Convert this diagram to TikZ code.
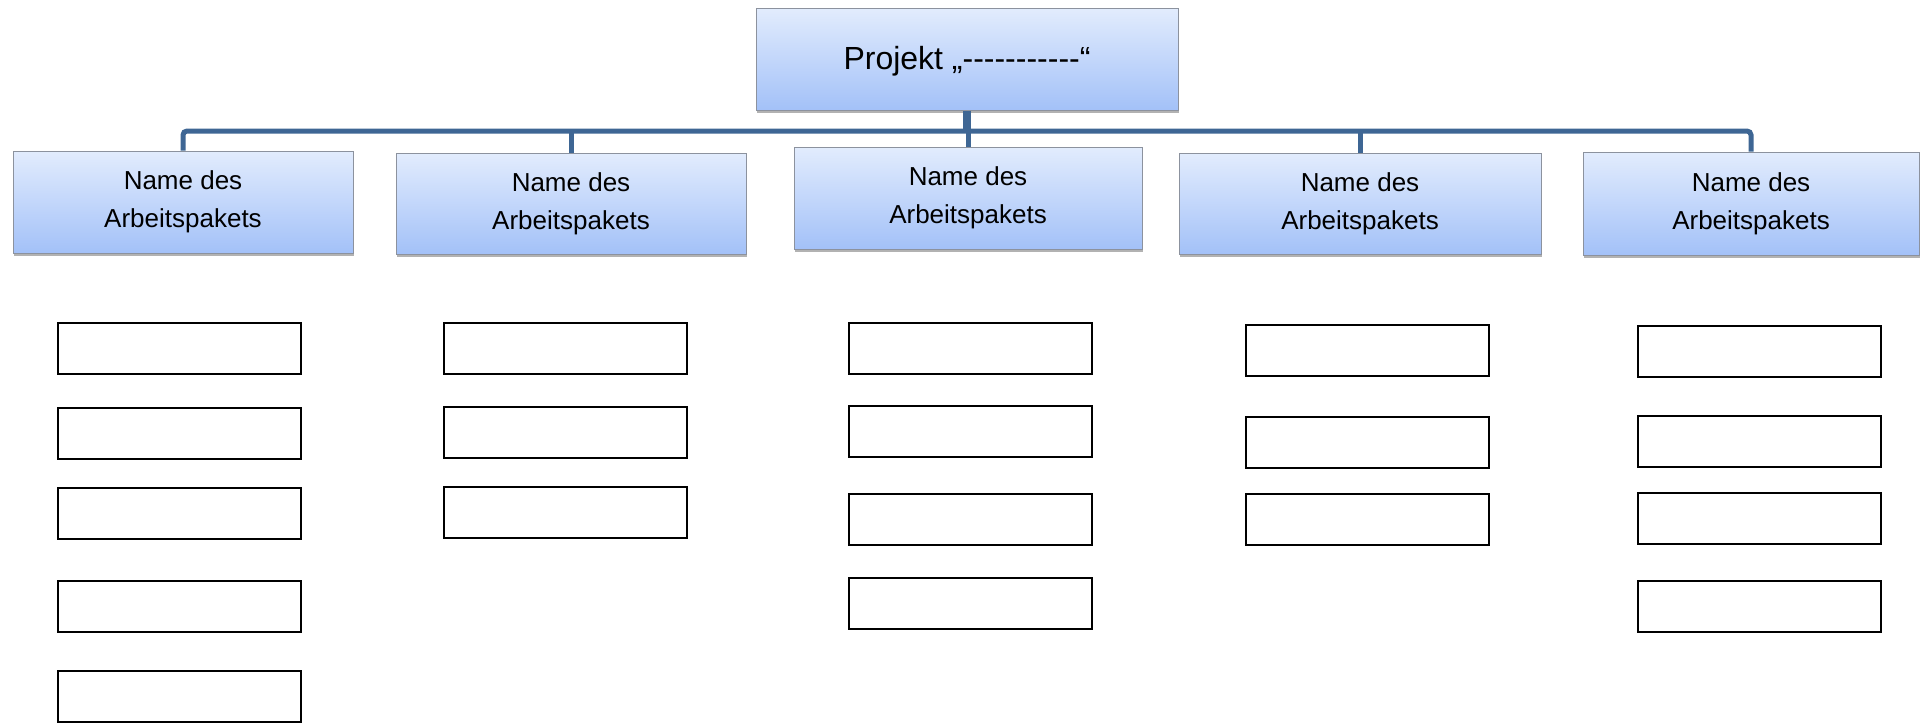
\documentclass[tikz,border=0pt]{standalone}
\usepackage{fontspec}
\newfontfamily\arial{Liberation Sans}
\usetikzlibrary{shadows}
\definecolor{busblue}{RGB}{62,102,148}
\definecolor{boxtop}{RGB}{226,236,253}
\definecolor{boxbot}{RGB}{163,193,248}
\definecolor{boxedge}{RGB}{140,146,158}
\tikzset{
  wbs/.style={draw=boxedge, line width=1pt, top color=boxtop, bottom color=boxbot,
    inner sep=0pt, align=center, font=\arial\fontsize{26}{38}\selectfont,
    drop shadow={shadow xshift=1pt, shadow yshift=-3pt, opacity=0.3, fill=black}},
  topbox/.style={wbs, font=\arial\fontsize{32}{38}\selectfont},
  leaf/.style={draw=black, line width=2pt, fill=white, inner sep=0pt,
    minimum width=243pt, minimum height=51pt},
  bus/.style={draw=busblue, line width=5pt},
}
\begin{document}
\begin{tikzpicture}[x=1pt, y=-1pt]
\useasboundingbox (0,0) rectangle (1926,723);
% top
\node[topbox, minimum width=422pt, minimum height=102pt, text depth=2pt] (top) at (967,59) {Projekt „-----------“};
% level 2
\node[wbs, minimum width=340pt, minimum height=102pt] (b1) at (183,202) {Name des\\Arbeitspakets};
\node[wbs, minimum width=350pt, minimum height=101pt] (b2) at (571,203.5) {Name des\\Arbeitspakets};
\node[wbs, minimum width=348pt, minimum height=102pt] (b3) at (968,198) {Name des\\Arbeitspakets};
\node[wbs, minimum width=362pt, minimum height=101pt] (b4) at (1360,203.5) {Name des\\Arbeitspakets};
\node[wbs, minimum width=336pt, minimum height=103pt] (b5) at (1751,203.5) {Name des\\Arbeitspakets};
% connectors
\coordinate (bus) at (0,131);
\draw[bus, rounded corners=4pt] (b1.north) -- (b1.north |- bus) -- (b5.north |- bus) -- (b5.north);
\draw[bus] (b2.north |- bus) -- (b2.north);
\draw[bus] (b4.north |- bus) -- (b4.north);
\draw[bus, line width=8pt] (top.south) -- (top.south |- bus);
\draw[bus] (b3.north |- bus) -- (b3.north);
% column 1
\node[leaf] (c1a) at (179.5,348) {};
\node[leaf] (c1b) at (179.5,433.5) {};
\node[leaf] (c1c) at (179.5,513.5) {};
\node[leaf] (c1d) at (179.5,606.5) {};
\node[leaf] (c1e) at (179.5,696) {};
% column 2
\node[leaf] (c2a) at (565,348.5) {};
\node[leaf] (c2b) at (565,432.5) {};
\node[leaf] (c2c) at (565,512) {};
% column 3
\node[leaf] (c3a) at (970.5,348) {};
\node[leaf] (c3b) at (970.5,431) {};
\node[leaf] (c3c) at (970.5,519.5) {};
\node[leaf] (c3d) at (970.5,603.5) {};
% column 4
\node[leaf] (c4a) at (1367.5,350.5) {};
\node[leaf] (c4b) at (1367.5,442) {};
\node[leaf] (c4c) at (1367.5,519.5) {};
% column 5
\node[leaf] (c5a) at (1759.5,351) {};
\node[leaf] (c5b) at (1759.5,441) {};
\node[leaf] (c5c) at (1759.5,518) {};
\node[leaf] (c5d) at (1759.5,606.5) {};
\end{tikzpicture}
\end{document}
